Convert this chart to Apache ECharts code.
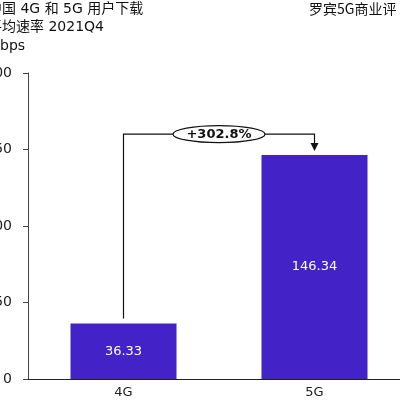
<!DOCTYPE html>
<html>
<head>
<meta charset="utf-8">
<script src="https://cdn.jsdelivr.net/npm/echarts@6/dist/echarts.min.js"></script>
<style>html,body{margin:0;padding:0;background:#fff}#c{width:400px;height:400px}</style>
</head>
<body>
<div id="c"></div>
<script>
var categories = ['4G', '5G'];
var speeds = [36.33, 146.34];
var yTicks = [0, 50, 100, 150, 200];
var titleLines = ['中国 4G 和 5G 用户下载', '平均速率 2021Q4', 'Mbps'];
var sourceText = '罗宾5G商业评';
var growthLabel = '+302.8%';
var bracketLevel = 160;

var FONT = '"DejaVu Sans", "Noto Sans CJK SC", sans-serif';
var chart = echarts.init(document.getElementById('c'), null, {renderer: 'canvas'});
chart.setOption({
  animation: false,
  grid: {left: 28, right: -10, top: 73, bottom: 21, containLabel: false, outerBoundsMode: 'none'},
  xAxis: {
    type: 'category', data: categories,
    axisLine: {lineStyle: {color: '#222', width: 1}},
    axisTick: {show: false},
    axisLabel: {color: '#222', fontSize: 13, margin: 7, fontFamily: FONT}
  },
  yAxis: {
    type: 'value', min: yTicks[0], max: yTicks[yTicks.length - 1], interval: 50,
    axisLine: {show: true, lineStyle: {color: '#444', width: 1}},
    axisTick: {show: true, length: 5, lineStyle: {color: '#444'}},
    splitLine: {show: false},
    axisLabel: {color: '#222', fontSize: 14, margin: 16, fontFamily: FONT}
  },
  series: [{
    type: 'bar', data: speeds, barWidth: '55.5%',
    itemStyle: {color: '#4323C8'},
    label: {show: true, position: 'inside', color: '#fff', fontSize: 13, fontFamily: FONT}
  }]
});

var p0 = chart.convertToPixel({gridIndex: 0}, [0, speeds[0]]);
var p1 = chart.convertToPixel({gridIndex: 0}, [1, speeds[1]]);
var yb = chart.convertToPixel({gridIndex: 0}, [0, bracketLevel])[1];
var midX = (p0[0] + p1[0]) / 2;
var tipY = p1[1] - 4;

chart.setOption({
  graphic: [
    {type: 'text', left: -12, top: 0, style: {text: titleLines.join('\n'), lineHeight: 18.5, fill: '#111', font: '14px ' + FONT}},
    {type: 'text', left: 309, top: 0, style: {text: sourceText, lineHeight: 18, fill: '#111', font: '14px "Noto Sans CJK SC", sans-serif'}},
    {type: 'polyline', shape: {points: [[p0[0], p0[1] - 5], [p0[0], yb], [p1[0], yb], [p1[0], tipY - 7]]}, style: {stroke: '#111', lineWidth: 1.2, fill: null}},
    {type: 'polygon', shape: {points: [[p1[0] - 4, tipY - 8], [p1[0] + 4, tipY - 8], [p1[0], tipY]]}, style: {fill: '#111'}},
    {type: 'ellipse', shape: {cx: midX, cy: yb, rx: 46, ry: 8.5}, style: {fill: '#fff', stroke: '#111', lineWidth: 1.2}, z: 10},
    {type: 'text', x: midX, y: yb, z: 11, style: {text: growthLabel, fill: '#111', align: 'center', verticalAlign: 'middle', font: 'bold 13px ' + FONT}}
  ]
});
</script>
</body>
</html>
